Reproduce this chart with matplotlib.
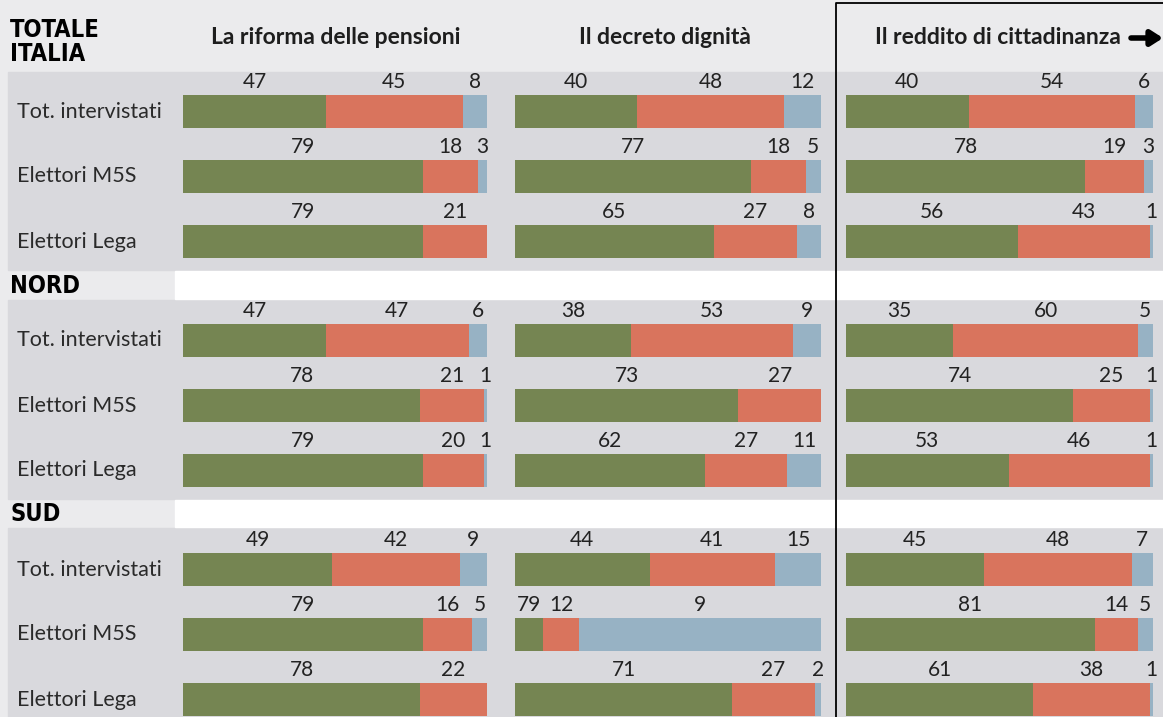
import matplotlib
matplotlib.use("Agg")
from matplotlib import pyplot as plt

plt.rcParams['font.family'] = ['Lato', 'DejaVu Sans']

# data
sections = ["TOTALE\nITALIA", "NORD", "SUD"]
groups = ["Tot. intervistati", "Elettori M5S", "Elettori Lega"]
topics = ["La riforma delle pensioni", "Il decreto dignità", "Il reddito di cittadinanza"]

# values [favorevoli, contrari, non sa] per section -> topic -> group
totale_pensioni = [[47, 45, 8], [79, 18, 3], [79, 21, 0]]
totale_decreto = [[40, 48, 12], [77, 18, 5], [65, 27, 8]]
totale_reddito = [[40, 54, 6], [78, 19, 3], [56, 43, 1]]
nord_pensioni = [[47, 47, 6], [78, 21, 1], [79, 20, 1]]
nord_decreto = [[38, 53, 9], [73, 27, 0], [62, 27, 11]]
nord_reddito = [[35, 60, 5], [74, 25, 1], [53, 46, 1]]
sud_pensioni = [[49, 42, 9], [79, 16, 5], [78, 22, 0]]
sud_decreto = [[44, 41, 15], [9, 12, 79], [71, 27, 2]]
sud_reddito = [[45, 48, 7], [81, 14, 5], [61, 38, 1]]

# the printed labels for SUD / decreto / M5S are in reverse order in the original
label_override = {(2, 1, 1): ["79", "12", "9"]}

data = [
    [totale_pensioni, totale_decreto, totale_reddito],
    [nord_pensioni, nord_decreto, nord_reddito],
    [sud_pensioni, sud_decreto, sud_reddito],
]

colors = ["#758552", "#d9745d", "#97b2c4"]
bg = "#ebebed"
band = "#d9d9dd"

W, H = 1163, 717
fig = plt.figure(figsize=(W / 100, H / 100), dpi=100)
fig.patch.set_facecolor(bg)

base = fig.add_axes([0, 0, 1, 1])
base.set_xlim(0, W)
base.set_ylim(H, 0)
base.axis("off")

sec_top = [0, 229, 458]
row_step = 65
bar_h = 33
first_bar = 95

# bands and section headers
band_spans = [(72, 270), (300, 499), (528, H)]
for (y0, y1) in band_spans:
    base.add_patch(plt.Rectangle((8, y0), W - 8, y1 - y0, color=band, zorder=0))
base.add_patch(plt.Rectangle((175, 271), W - 175, 28, color="white", zorder=0))
base.add_patch(plt.Rectangle((175, 500), W - 175, 27, color="white", zorder=0))

head_font = dict(family=["DejaVu Sans"], stretch="condensed", fontweight="bold",
                 fontsize=17, color="black", ha="left", va="center")
base.text(10, 42, sections[0], linespacing=0.95, **head_font)
base.text(10, 286, sections[1], **head_font)
base.text(10, 514, sections[2], **head_font)

col_x = [(183, 487), (515, 821), (846, 1153)]
head_x = [336, 665, 998]
for t, hx in zip(topics, head_x):
    base.text(hx, 37, t, fontsize=16.5, fontweight="bold", ha="center", va="center",
              color="#1e1e1e")
base.annotate("", xy=(1163, 38), xytext=(1131, 38),
              arrowprops=dict(arrowstyle="-|>,head_length=0.7,head_width=0.45",
                              color="black", lw=4, shrinkA=0, shrinkB=0))

# frame around the last column
base.plot([836, 836, W], [H, 3, 3], color="black", lw=1.3, zorder=5)

for s in range(3):
    for g in range(3):
        yc = sec_top[s] + first_bar + g * row_step + bar_h / 2
        base.text(17, yc, groups[g], fontsize=15.5, ha="left", va="center",
                  color="#2a2a2a")

for c, (x0, x1) in enumerate(col_x):
    ax = fig.add_axes([x0 / W, 0, (x1 - x0) / W, 1])
    ax.set_xlim(0, 100)
    ax.set_ylim(H, 0)
    ax.axis("off")
    for s in range(3):
        for g in range(3):
            vals = data[s][c][g]
            labels = label_override.get((s, c, g), [str(v) for v in vals])
            y = sec_top[s] + first_bar + g * row_step + bar_h / 2
            left = 0
            for v, col, lab in zip(vals, colors, labels):
                if v > 0:
                    ax.barh(y, v, left=left, height=bar_h, color=col, linewidth=0)
                    ax.text(left + v / 2, y - bar_h / 2 - 3, lab, fontsize=15,
                            ha="center", va="bottom", color="#222222")
                left += v

fig.savefig("out.png", dpi=100, facecolor=fig.get_facecolor())
